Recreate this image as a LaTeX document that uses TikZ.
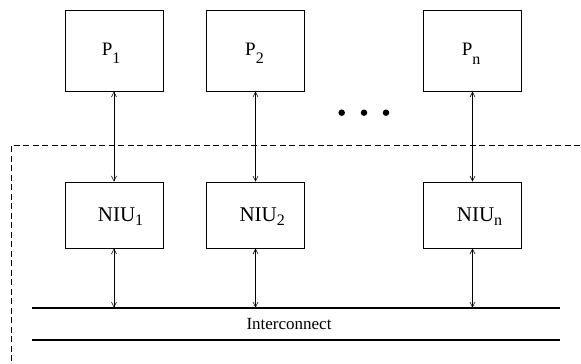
\documentclass[tikz,border=0pt]{standalone}
\usepackage{fontspec}
\setmainfont{Liberation Serif}
\usetikzlibrary{arrows.meta}
\begin{document}
\begin{tikzpicture}[x=1pt,y=-1pt,
  box/.style={draw, line width=0.8pt, minimum width=98pt, inner sep=0pt},
  pbox/.style={box, minimum height=81pt},
  nbox/.style={box, minimum height=66pt},
  plbl/.style={anchor=base west, inner sep=0pt, font=\fontsize{19}{19}\selectfont},
  nlbl/.style={anchor=base west, inner sep=0pt, font=\fontsize{21}{21}\selectfont},
  link/.style={{Straight Barb[length=5pt,width=5pt]}-{Straight Barb[length=5pt,width=5pt]}, line width=0.6pt},
  bus/.style={line width=1.6pt},
  dot/.style={circle, fill, inner sep=0pt, minimum size=6.5pt},
  frame/.style={dash pattern=on 6pt off 3.5pt, line width=0.7pt}]
\clip (0,0) rectangle (581,364);
% processor boxes
\node[pbox] (P1) at (114,50.5) {};
\node[pbox] (P2) at (255.5,50.5) {};
\node[pbox] (Pn) at (472.5,50.5) {};
% NIU boxes
\node[nbox] (N1) at (114,215) {};
\node[nbox] (N2) at (255.5,215) {};
\node[nbox] (Nn) at (472.5,215) {};
% labels
\node[plbl] (lP1) at (101.7,55) {P\raisebox{-8.5pt}{\fontsize{16}{16}\selectfont 1}};
\node[plbl] (lP2) at (245,55) {P\raisebox{-8.5pt}{\fontsize{16}{16}\selectfont 2}};
\node[plbl] (lPn) at (461.7,55) {P\raisebox{-9.5pt}{\fontsize{16}{16}\selectfont n}};
\node[nlbl] (lN1) at (97.7,221.3) {NIU\raisebox{-4pt}{\fontsize{16}{16}\selectfont 1}};
\node[nlbl] (lN2) at (239.3,221.3) {NIU\raisebox{-4pt}{\fontsize{16}{16}\selectfont 2}};
\node[nlbl] (lNn) at (456.7,221.3) {NIU\raisebox{-4pt}{\fontsize{16}{16}\selectfont n}};
% dots
\node[dot] (d1) at (341.7,112.7) {};
\node[dot] (d2) at (364,112.7) {};
\node[dot] (d3) at (386,112.7) {};
% dashed frame
\coordinate (fA) at (11,380);
\coordinate (fB) at (11,145);
\coordinate (fC) at (600,145);
\draw[frame] (fA) -- (fB) -- (fC);
% bus
\coordinate (busL1) at (32,307.7);
\coordinate (busR1) at (560,307.7);
\coordinate (busL2) at (32,339.7);
\coordinate (busR2) at (560,339.7);
\draw[bus] (busL1) -- (busR1);
\draw[bus] (busL2) -- (busR2);
\node[anchor=base, inner sep=0pt, font=\fontsize{17}{17}\selectfont] (ic) at (289,329.3) {Interconnect};
% bus taps
\coordinate (b1) at (114,307.7);
\coordinate (b2) at (255.5,307.7);
\coordinate (bn) at (472.5,307.7);
% links
\draw[link] (P1.south) -- (N1.north);
\draw[link] (P2.south) -- (N2.north);
\draw[link] (Pn.south) -- (Nn.north);
\draw[link] (N1.south) -- (b1);
\draw[link] (N2.south) -- (b2);
\draw[link] (Nn.south) -- (bn);
\end{tikzpicture}
\end{document}
